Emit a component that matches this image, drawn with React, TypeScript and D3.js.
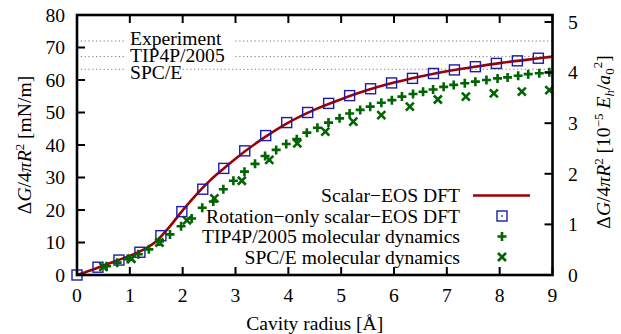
import React from "react";
import * as d3 from "d3";

// ---------- data ----------
const curveX = [0, 0.25, 0.5, 0.75, 1.0, 1.25, 1.5, 1.75, 2.0, 2.25, 2.5, 2.75, 3.0, 3.5, 4.0, 4.5, 5.0, 5.5, 6.0, 6.5, 7.0, 7.5, 8.0, 8.5, 9.0];
const curveY = [0, 1.4, 2.9, 4.4, 5.9, 7.7, 10.4, 14.8, 19.9, 24.6, 28.8, 32.4, 35.8, 41.8, 46.9, 50.9, 54.1, 56.9, 59.2, 61.1, 62.7, 64.0, 65.2, 66.2, 67.2];

const rotX = [0, 0.397, 0.794, 1.191, 1.588, 1.985, 2.381, 2.778, 3.175, 3.572, 3.969, 4.366, 4.763, 5.16, 5.557, 5.954, 6.35, 6.747, 7.144, 7.541, 7.938, 8.335, 8.732];
const rotY = [0, 2.4, 4.6, 7.0, 12.1, 19.5, 26.4, 32.8, 38.2, 42.9, 46.9, 50.0, 52.8, 55.2, 57.3, 59.1, 60.5, 62.0, 63.1, 64.1, 65.1, 65.9, 66.7];

const tipX = [0.56, 0.76, 0.96, 1.16, 1.36, 1.56, 1.76, 1.97, 2.17, 2.37, 2.58, 2.77, 2.96, 3.17, 3.37, 3.56, 3.77, 3.96, 4.16, 4.35, 4.55, 4.76, 4.97, 5.16, 5.36, 5.55, 5.76, 5.96, 6.15, 6.36, 6.55, 6.74, 6.94, 7.13, 7.34, 7.54, 7.75, 7.96, 8.15, 8.35, 8.54, 8.75, 8.94];
const tipY = [2.7, 3.8, 4.9, 6.4, 7.9, 10.3, 12.5, 15.0, 17.4, 20.7, 22.6, 26.4, 29.0, 31.8, 34.2, 36.6, 38.5, 40.3, 41.8, 43.8, 45.3, 46.9, 48.2, 49.7, 50.8, 51.8, 53.0, 53.8, 54.9, 55.7, 56.4, 57.1, 57.9, 58.5, 59.0, 59.5, 60.0, 60.5, 60.8, 61.3, 61.8, 62.1, 62.4];

const spcX = [0.5, 1.03, 1.56, 2.08, 2.6, 3.12, 3.64, 4.17, 4.7, 5.23, 5.76, 6.3, 6.83, 7.36, 7.89, 8.42, 8.94];
const spcY = [2.5, 5.0, 10.0, 16.8, 23.6, 29.0, 35.4, 40.5, 44.1, 47.2, 49.2, 51.8, 54.0, 54.9, 55.9, 56.4, 56.9];

const refNames = ["Experiment", "TIP4P/2005", "SPC/E"];
const refValues = [72.0, 67.2, 63.3];
const refLabelValues = [73.0, 67.6, 62.3];
const refResume = [3.0, 3.0, 2.0];

const xTicks = [0, 1, 2, 3, 4, 5, 6, 7, 8, 9];
const yTicks = [0, 10, 20, 30, 40, 50, 60, 70, 80];
const y2Ticks = [0, 1, 2, 3, 4, 5];
const unitFactor = 15.57; // 1e-5 Eh/a0^2 in mN/m

const legendNames = [
  "Scalar\u2212EOS DFT",
  "Rotation\u2212only scalar\u2212EOS DFT",
  "TIP4P/2005 molecular dynamics",
  "SPC/E molecular dynamics",
];

// ---------- styles ----------
const W = 621, H = 334;
const FONT = "Liberation Serif, DejaVu Serif, serif";
const FS = 19.6;
const RED = "#9c0000";
const BLUE = "#1c1ca6";
const GREEN = "#006400";

export default function App() {
  const x = d3.scaleLinear().domain([0, 9]).range([77, 552.5]);
  const y = d3.scaleLinear().domain([0, 80]).range([275, 15]);
  const y2 = (v: number) => y(v * unitFactor);

  const line = d3
    .line<number>()
    .x((_, i) => x(curveX[i]))
    .y((d) => y(d))
    .curve(d3.curveMonotoneX);

  const sq = (cx: number, cy: number, k: string, dot = true) => (
    <g key={k}>
      <rect x={cx - 5} y={cy - 5} width={10} height={10} fill="none" stroke={BLUE} strokeWidth={1.4} />
      {dot && <rect x={cx - 0.8} y={cy - 0.8} width={1.6} height={1.6} fill={BLUE} />}
    </g>
  );
  const plus = (cx: number, cy: number, k: string) => (
    <path key={k} d={`M${cx - 4.5},${cy}H${cx + 4.5}M${cx},${cy - 4.5}V${cy + 4.5}`} stroke={GREEN} strokeWidth={2.6} fill="none" />
  );
  const cross = (cx: number, cy: number, k: string) => (
    <path key={k} d={`M${cx - 4},${cy - 4}L${cx + 4},${cy + 4}M${cx - 4},${cy + 4}L${cx + 4},${cy - 4}`} stroke={GREEN} strokeWidth={2.6} fill="none" />
  );

  const x0 = x(0), x1 = x(9), yTop = y(80), yBot = y(0);
  const legX = 460, legSym = 502;
  const legY = [195.5, 216, 236.5, 257];

  return (
    <svg width={W} height={H} style={{ position: "absolute", left: 0, top: 0, fontFamily: FONT, fontSize: FS }}>
      <rect width={W} height={H} fill="#fff" />
      {/* reference lines */}
      {refValues.map((v, i) => (
        <g key={"ref" + i}>
          <line x1={x0} x2={x(0.9)} y1={y(v)} y2={y(v)} stroke="#777" strokeWidth={1} strokeDasharray="1.2,2.6" />
          <line x1={x(refResume[i])} x2={x1} y1={y(v)} y2={y(v)} stroke="#777" strokeWidth={1} strokeDasharray="1.2,2.6" />
          <text x={130} y={y(refLabelValues[i])} dy="0.35em" fill="#000">{refNames[i]}</text>
        </g>
      ))}
      {/* curve */}
      <path d={line(curveY) || ""} fill="none" stroke={RED} strokeWidth={2.6} />
      {rotX.map((v, i) => sq(x(v), y(rotY[i]), "s" + i, false))}
      {tipX.map((v, i) => plus(x(v), y(tipY[i]), "p" + i))}
      {spcX.map((v, i) => cross(x(v), y(spcY[i]), "c" + i))}

      {/* legend */}
      {legendNames.map((n, i) => (
        <text key={"lg" + i} x={legX} y={legY[i]} dy="0.35em" textAnchor="end">{n}</text>
      ))}
      <line x1={473} x2={530} y1={legY[0]} y2={legY[0]} stroke={RED} strokeWidth={2.6} />
      {sq(legSym, legY[1], "ls")}
      {plus(legSym, legY[2], "lp")}
      {cross(legSym, legY[3], "lc")}

      {/* ticks */}
      {xTicks.map((t) => (
        <g key={"xt" + t}>
          <line x1={x(t)} x2={x(t)} y1={yBot} y2={yBot - 8} stroke="#000" strokeWidth={2} />
          <line x1={x(t)} x2={x(t)} y1={yTop} y2={yTop + 8} stroke="#000" strokeWidth={2} />
          <text x={x(t)} y={302} textAnchor="middle">{t}</text>
        </g>
      ))}
      {yTicks.map((t) => (
        <g key={"yt" + t}>
          <line x1={x0} x2={x0 + 8} y1={y(t)} y2={y(t)} stroke="#000" strokeWidth={2} />
          <text x={65} y={y(t)} dy="0.35em" textAnchor="end">{t}</text>
        </g>
      ))}
      {y2Ticks.map((t) => (
        <g key={"y2t" + t}>
          <line x1={x1} x2={x1 - 8} y1={y2(t)} y2={y2(t)} stroke="#000" strokeWidth={2} />
          <text x={568} y={y2(t)} dy="0.35em" textAnchor="start">{t}</text>
        </g>
      ))}
      {/* frame */}
      <rect x={x0} y={yTop} width={x1 - x0} height={yBot - yTop} fill="none" stroke="#000" strokeWidth={2.6} />

      {/* axis titles */}
      <text x={(x0 + x1) / 2} y={330} textAnchor="middle">Cavity radius [Å]</text>
      <text transform="translate(31,145) rotate(-90)" textAnchor="middle">
        Δ<tspan fontStyle="italic">G</tspan>/4<tspan fontStyle="italic">πR</tspan>
        <tspan dy={-7} fontSize={13}>2</tspan>
        <tspan dy={7}> [mN/m]</tspan>
      </text>
      <text transform="translate(610,142) rotate(-90)" textAnchor="middle">
        Δ<tspan fontStyle="italic">G</tspan>/4<tspan fontStyle="italic">πR</tspan>
        <tspan dy={-7} fontSize={13}>2</tspan>
        <tspan dy={7}> [10</tspan>
        <tspan dy={-7} fontSize={13}>−5</tspan>
        <tspan dy={7}> </tspan>
        <tspan fontStyle="italic">E</tspan>
        <tspan dy={4} fontSize={13} fontStyle="italic">h</tspan>
        <tspan dy={-4}>/</tspan>
        <tspan fontStyle="italic">a</tspan>
        <tspan dy={4} fontSize={13}>0</tspan>
        <tspan dy={-12} fontSize={13}>2</tspan>
        <tspan dy={8}>]</tspan>
      </text>
    </svg>
  );
}
